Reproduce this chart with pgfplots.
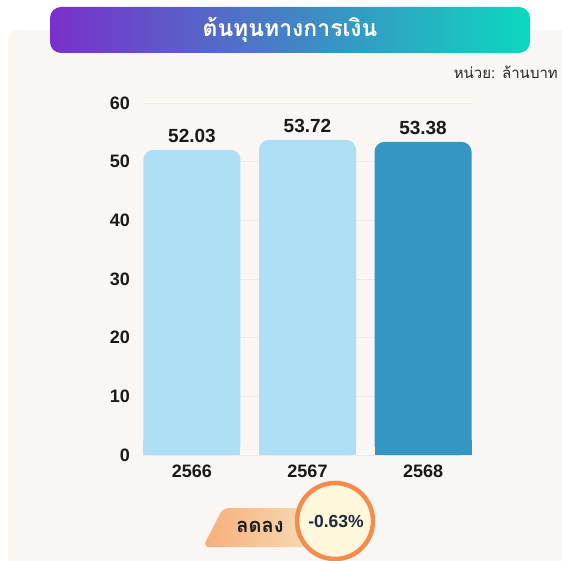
\documentclass[border=0pt]{standalone}
\usepackage{pgfplots}
\pgfplotsset{compat=1.18}
\usepackage{fontspec}
\setmainfont{Liberation Sans}
\newfontfamily\thaifont[Script=Thai]{Loma}
\definecolor{panel}{HTML}{F9F6F3}
\definecolor{tpurple}{HTML}{7A2FCB}
\definecolor{tteal}{HTML}{0CD8C0}
\definecolor{lightbar}{HTML}{AEDFF5}
\definecolor{darkbar}{HTML}{3596C4}
\definecolor{gridc}{HTML}{ECE8E4}
\definecolor{pillL}{HTML}{F7AE78}
\definecolor{pillR}{HTML}{F6E4C3}
\definecolor{ring}{HTML}{F58B4C}
\definecolor{cream}{HTML}{FFF7DC}
\definecolor{navy}{HTML}{1C2A3A}
\begin{document}
\begin{tikzpicture}[x=1pt,y=1pt]
\useasboundingbox (0,0) rectangle (562,-561);
\fill[white] (0,0) rectangle (562,-561);
\fill[panel, rounded corners=10pt] (8,-30) rectangle (600,-620);
\shade[left color=tpurple, right color=tteal, rounded corners=11pt] (50,-7) rectangle (530,-53);
\node[text=white, font=\thaifont\bfseries\fontsize{23}{26}\selectfont] at (290,-30) {ต้นทุนทางการเงิน};
\node[anchor=base east, inner sep=0pt, font=\thaifont\fontsize{15}{18}\selectfont, text=black!85] at (558,-79) {หน่วย: ล้านบาท};
\begin{axis}[at={(143pt,-455pt)}, anchor=south west, scale only axis,
  width=329pt, height=352pt, ymin=0, ymax=60, xmin=-0.424, xmax=2.424,
  ytick={0,10,20,30,40,50,60}, xtick={0,1,2}, xticklabels={2566,2567,2568},
  axis line style={draw=none}, major tick length=0pt,
  ymajorgrids, grid style={color=gridc, line width=1pt},
  /pgf/number format/assume math mode=true,
  ticklabel style={font=\bfseries\fontsize{18}{20}\selectfont, text=black!90},
  yticklabel style={anchor=east, inner sep=0pt, xshift=-13pt},
  xticklabel style={anchor=north, inner sep=0pt, yshift=-10pt},
  clip=false]
\addplot[ybar, bar width=97pt, bar shift=0pt, fill=lightbar, draw=none, rounded corners=10pt,
  point meta=explicit symbolic, nodes near coords,
  nodes near coords style={font=\bfseries\fontsize{19}{21}\selectfont, anchor=south, yshift=4pt, text=black!90}]
  coordinates {(0,52.03) [52.03]};
\addplot[ybar, bar width=97pt, bar shift=0pt, fill=lightbar, draw=none] coordinates {(0,2.5)};
\addplot[ybar, bar width=97pt, bar shift=0pt, fill=lightbar, draw=none, rounded corners=10pt,
  point meta=explicit symbolic, nodes near coords,
  nodes near coords style={font=\bfseries\fontsize{19}{21}\selectfont, anchor=south, yshift=4pt, text=black!90}]
  coordinates {(1,53.72) [53.72]};
\addplot[ybar, bar width=97pt, bar shift=0pt, fill=lightbar, draw=none] coordinates {(1,2.5)};
\addplot[ybar, bar width=97pt, bar shift=0pt, fill=darkbar, draw=none, rounded corners=10pt,
  point meta=explicit symbolic, nodes near coords,
  nodes near coords style={font=\bfseries\fontsize{19}{21}\selectfont, anchor=south, yshift=4pt, text=black!90}]
  coordinates {(2,53.38) [53.38]};
\addplot[ybar, bar width=97pt, bar shift=0pt, fill=darkbar, draw=none] coordinates {(2,2.5)};
\end{axis}
\shade[left color=pillL, right color=pillR, rounded corners=6pt] (223,-508) -- (332,-508) -- (332,-547) -- (203,-547) -- cycle;
\node[font=\thaifont\bfseries\fontsize{20}{22}\selectfont, text=black!90] at (260,-527) {ลดลง};
\draw[ring, line width=4.5pt, fill=cream] (335,-521) circle (38);
\node[font=\bfseries\fontsize{17.5}{20}\selectfont, text=navy] at (336,-521) {-0.63\%};
\end{tikzpicture}
\end{document}
